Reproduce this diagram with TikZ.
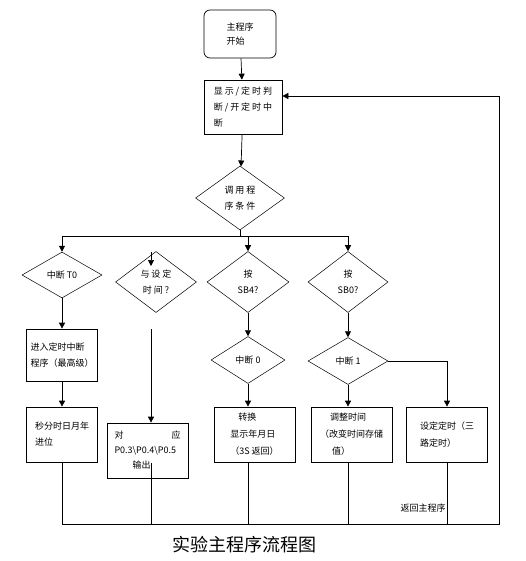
\documentclass[tikz,border=0pt]{standalone}
\usepackage{fontspec}
\newfontfamily\cjk{Noto Sans CJK SC}
\newfontfamily\cjksp[LetterSpace=22]{Noto Sans CJK SC}
\usetikzlibrary{arrows.meta,shapes.geometric}

\begin{document}
\begin{tikzpicture}[
  x=1pt, y=-1pt,
  font=\cjk\fontsize{9}{16}\selectfont,
  line width=0.7pt,
  b/.style={draw, align=left, inner sep=3pt, minimum width=81pt, minimum height=55pt},
  d/.style={draw, diamond, inner sep=0pt, align=center, line width=0.5pt},
  sp/.style={font=\cjksp\fontsize{9}{16}\selectfont},
  arr/.style={-{Triangle[length=6pt, width=6pt]}}
]
\useasboundingbox (0,0) rectangle (526,561);
% main column
\node[b, rounded corners=6pt, minimum width=72pt, minimum height=48pt, font=\cjk\fontsize{9}{14}\selectfont] (start) at (240,34) {主程序\\开始};
\node[b, sp, minimum width=78pt, minimum height=54pt] (disp) at (243,107) {显示/定时判\\断/开定时中\\断};
\node[d, sp, minimum width=89pt, minimum height=64pt] (call) at (240,198) {调用程\\序条件};
% branch diamonds
\node[d, minimum width=80pt, minimum height=46pt] (t0) at (62,275) {中断 T0};
\node[d, sp, minimum width=81pt, minimum height=61pt] (cmp) at (156,282) {与设定\\时间?};
\node[d, minimum width=82pt, minimum height=61pt] (sb4) at (248,282) {按\\SB4?};
\node[d, minimum width=80pt, minimum height=61pt] (sb0) at (348,282) {按\\SB0?};
\node[d, minimum width=74pt, minimum height=47pt] (int0) at (248,360) {中断 0};
\node[d, minimum width=80pt, minimum height=47pt] (int1) at (348,361) {中断 1};
% boxes
\node[b, minimum width=71pt, minimum height=52pt] (enter) at (62,355) {进入定时中断\\程序（最高级）};
\node[b, minimum width=71pt] (carry) at (62,434.5) {秒分时日月年\\进位};
\node[b, font=\cjk\fontsize{9}{15}\selectfont] (out) at (147.5,450.5) {\makebox[66pt]{对\hfill 应}\\P0.3\textbackslash P0.4\textbackslash P0.5\\\hspace*{18pt}输出};
\node[b, font=\cjk\fontsize{9}{17}\selectfont] (conv) at (254.5,434.5) {\hspace*{8pt}转换\\显示年月日\\（3S 返回）};
\node[b, font=\cjk\fontsize{9}{17}\selectfont] (adj) at (351.5,434.5) {\hspace*{10pt}调整时间\\（改变时间存储\\\hspace*{12pt}值）};
\node[b, font=\cjk\fontsize{9}{17}\selectfont] (timer) at (447,434.5) {设定定时（三\\路定时）};
\node (ret) at (423,508) {返回主程序};
\node[font=\cjk\fontsize{18}{20}\selectfont] (cap) at (244,545) {实验主程序流程图};
% points
\coordinate (split) at (240,236);
\coordinate (jl) at (62,236);
\coordinate (jr) at (348,236);
\coordinate (q1) at (151,252);
\coordinate (q2) at (151,266);
\coordinate (s1) at (151,329);
\coordinate (o1) at (151,463);
\coordinate (bl) at (62,524);
\coordinate (br) at (499,524);
\coordinate (bt) at (499,96);
% connectors
\draw[arr] (start) -- (disp);
\draw[arr] (disp) -- (call);
\draw (call.south) -- (split);
\draw (jl) -- (jr);
\draw[arr] (jl) -- (t0);
\draw[arr] (sb4 |- jl) -- (sb4);
\draw[arr] (jr) -- (sb0);
\draw[arr] (q1) -- (q2);
\draw[arr] (t0) -- (enter);
\draw[arr] (enter) -- (carry);
\draw[arr] (s1) -- (s1 |- out.north);
\draw[arr] (sb4) -- (int0);
\draw[arr] (sb0) -- (int1);
\draw[arr] (int0) -- (int0 |- conv.north);
\draw[arr] (int1) -- (int1 |- adj.north);
\draw[arr] (int1.east) -| (timer.north);
\draw (carry) -- (bl);
\draw (o1) -- (o1 |- bl);
\draw (conv.south -| int0) -- (int0 |- bl);
\draw (adj.south -| int1) -- (int1 |- bl);
\draw (timer) -- (timer |- bl);
\draw (bl) -- (br) -- (bt);
\draw[arr] (bt) -- (bt -| disp.east);
\end{tikzpicture}
\end{document}
